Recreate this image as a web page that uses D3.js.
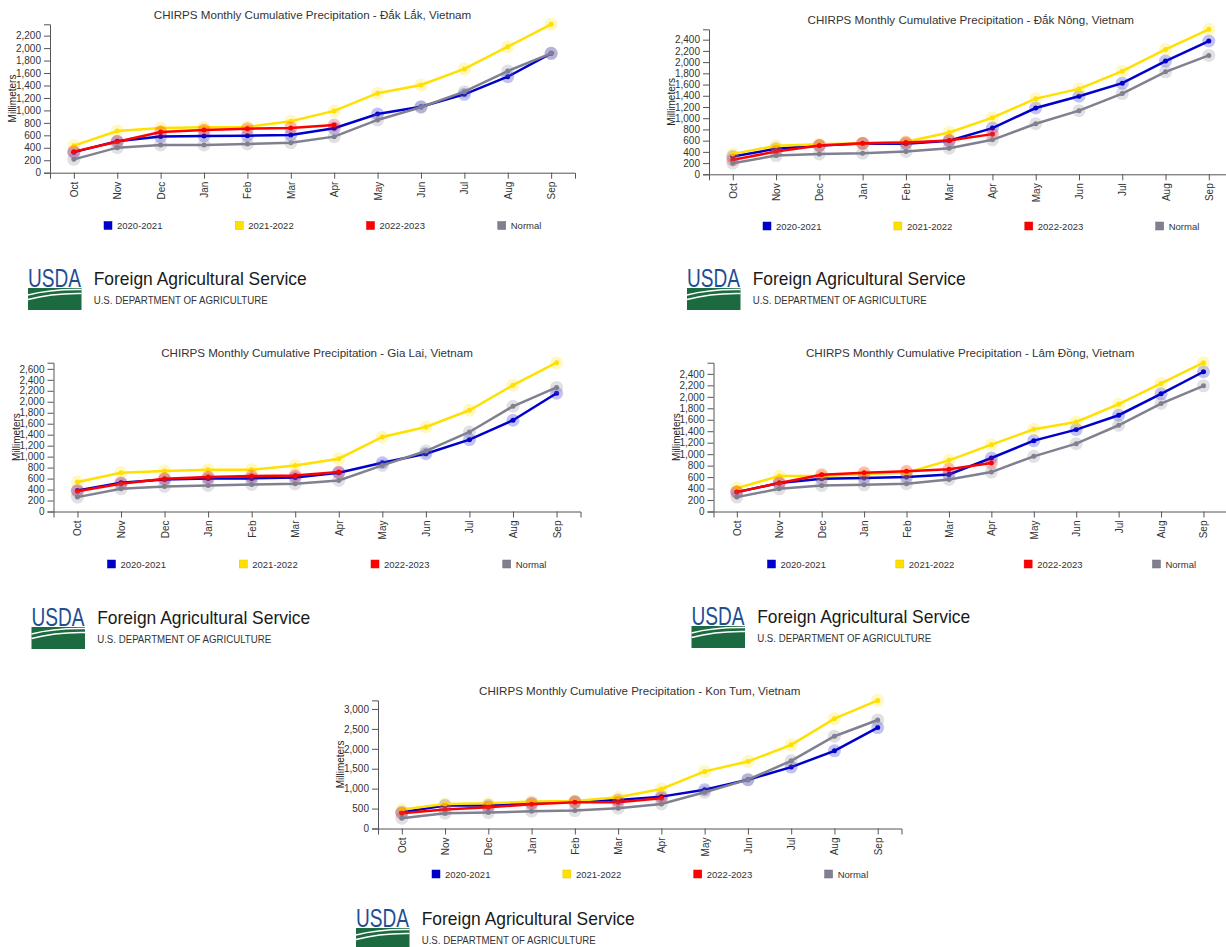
<!DOCTYPE html>
<html>
<head>
<meta charset="utf-8">
<script src="https://cdn.jsdelivr.net/npm/d3@7"></script>
<style>
body { margin: 0; background: #fff; }
svg text { font-family: "Liberation Sans", Arial, sans-serif; }
</style>
</head>
<body>
<svg id="chart" width="1226" height="947"></svg>
<script>
var months = ["Oct", "Nov", "Dec", "Jan", "Feb", "Mar", "Apr", "May", "Jun", "Jul", "Aug", "Sep"];
var seriesNames = ["2020-2021", "2021-2022", "2022-2023", "Normal"];
var provinces = ["Đắk Lắk", "Đắk Nông", "Gia Lai", "Lâm Đồng", "Kon Tum"];

// cumulative mm
var dakLak2020 = [330, 505, 580, 590, 595, 606, 713, 943, 1060, 1258, 1541, 1916];
var dakLak2021 = [434, 670, 718, 729, 734, 825, 992, 1276, 1408, 1665, 2022, 2382];
var dakLak2022 = [338, 498, 654, 686, 707, 718, 766];
var dakLakNormal = [214, 402, 445, 445, 461, 482, 579, 847, 1050, 1300, 1632, 1916];

var dakNong2020 = [316, 454, 513, 549, 543, 597, 824, 1182, 1391, 1624, 2018, 2376];
var dakNong2021 = [364, 507, 537, 555, 579, 746, 1009, 1349, 1522, 1839, 2227, 2585];
var dakNong2022 = [257, 406, 513, 555, 567, 603, 716];
var dakNongNormal = [197, 334, 364, 376, 406, 466, 615, 901, 1134, 1439, 1827, 2119];

var giaLai2020 = [384, 524, 585, 603, 603, 621, 706, 889, 1054, 1309, 1663, 2155];
var giaLai2021 = [536, 706, 737, 761, 761, 840, 962, 1358, 1541, 1845, 2302, 2712];
var giaLai2022 = [371, 505, 597, 627, 646, 658, 719];
var giaLaiNormal = [262, 414, 457, 475, 493, 505, 566, 840, 1102, 1449, 1918, 2262];

var lamDong2020 = [338, 496, 571, 583, 600, 647, 933, 1236, 1428, 1679, 2052, 2437];
var lamDong2021 = [408, 618, 618, 653, 676, 892, 1166, 1434, 1562, 1871, 2233, 2595];
var lamDong2022 = [338, 496, 641, 676, 700, 735, 845];
var lamDongNormal = [251, 396, 455, 466, 484, 560, 688, 962, 1183, 1504, 1883, 2192];

var konTum2020 = [408, 575, 575, 641, 675, 716, 800, 975, 1225, 1541, 1949, 2532];
var konTum2021 = [475, 616, 633, 675, 691, 783, 991, 1433, 1683, 2099, 2757, 3215];
var konTum2022 = [383, 475, 533, 608, 658, 658, 758];
var konTumNormal = [258, 383, 400, 433, 450, 508, 616, 908, 1225, 1699, 2316, 2724];

var provinceData = [
    [dakLak2020, dakLak2021, dakLak2022, dakLakNormal],
    [dakNong2020, dakNong2021, dakNong2022, dakNongNormal],
    [giaLai2020, giaLai2021, giaLai2022, giaLaiNormal],
    [lamDong2020, lamDong2021, lamDong2022, lamDongNormal],
    [konTum2020, konTum2021, konTum2022, konTumNormal]
];

var colors = ["#0000cc", "#ffe000", "#ff0000", "#808090"];

// where each small chart sits on the page
var panels = [
    {x0: 50, x1: 575, y0: 172.7, y1: 24.3, titleY: 18.5, legendY: 225.5, logoY: 268},
    {x0: 709, x1: 1232.6, y0: 174.3, y1: 29.3, titleY: 24, legendY: 226, logoY: 268},
    {x0: 53.5, x1: 580.5, y0: 511.5, y1: 362.7, titleY: 356.5, legendY: 564, logoY: 607},
    {x0: 713.5, x1: 1226.8, y0: 511.5, y1: 362.7, titleY: 356.5, legendY: 564, logoY: 606},
    {x0: 378, x1: 901.5, y0: 828.5, y1: 700.4, titleY: 695, legendY: 874, logoY: 908}
];

var svg = d3.select("#chart");

panels.forEach(function (p, i) {
    var data = provinceData[i];
    var g = svg.append("g");

    var x = d3.scalePoint()
        .domain(months)
        .range([p.x0, p.x1])
        .padding(0.55);

    var maxVal = d3.max(data, function (s) { return d3.max(s); });
    var y = d3.scaleLinear()
        .domain([0, maxVal])
        .range([p.y0, p.y1]);

    // title
    g.append("text")
        .attr("x", (p.x0 + p.x1) / 2)
        .attr("y", p.titleY)
        .attr("text-anchor", "middle")
        .attr("font-size", 11.6)
        .attr("fill", "#333")
        .text("CHIRPS Monthly Cumulative Precipitation - " + provinces[i] + ", Vietnam");

    // axes
    var xAxis = g.append("g")
        .attr("transform", "translate(0," + p.y0 + ")")
        .call(d3.axisBottom(x).tickSizeOuter(6));
    xAxis.selectAll("text")
        .attr("transform", "rotate(-90)")
        .attr("x", -9)
        .attr("y", 0)
        .attr("dy", ".35em")
        .attr("text-anchor", "end");

    var yAxis = g.append("g")
        .attr("transform", "translate(" + p.x0 + ",0)")
        .call(d3.axisLeft(y).ticks(10).tickFormat(d3.format(",.0f")).tickSizeOuter(6));

    [xAxis, yAxis].forEach(function (a) {
        a.attr("font-family", "Liberation Sans, Arial, sans-serif").attr("font-size", 10);
        a.selectAll("path, line").attr("stroke", "#555");
        a.selectAll("text").attr("fill", "#333");
    });

    g.append("text")
        .attr("transform", "translate(" + (p.x0 - 34) + "," + ((p.y0 + p.y1) / 2) + ") rotate(-90)")
        .attr("text-anchor", "middle")
        .attr("font-size", 10)
        .attr("fill", "#222")
        .text("Millimeters");

    var line = d3.line()
        .x(function (d, k) { return x(months[k]); })
        .y(function (d) { return y(d); });

    data.forEach(function (s, k) {
        var sg = g.append("g");
        sg.selectAll(".halo")
            .data(s)
            .enter().append("circle")
            .attr("cx", function (d, j) { return x(months[j]); })
            .attr("cy", function (d) { return y(d); })
            .attr("r", 6.5)
            .attr("fill", colors[k])
            .attr("fill-opacity", 0.24);
        sg.append("path")
            .datum(s)
            .attr("d", line)
            .attr("fill", "none")
            .attr("stroke", colors[k])
            .attr("stroke-width", 2.5);
        sg.selectAll(".dot")
            .data(s)
            .enter().append("circle")
            .attr("cx", function (d, j) { return x(months[j]); })
            .attr("cy", function (d) { return y(d); })
            .attr("r", 2.5)
            .attr("fill", colors[k]);
    });

    // legend
    var legStep = (p.x1 - p.x0) / 4;
    seriesNames.forEach(function (name, k) {
        var lx = p.x0 + 54 + k * legStep;
        g.append("rect")
            .attr("x", lx)
            .attr("y", p.legendY - 4)
            .attr("width", 8)
            .attr("height", 8)
            .attr("fill", colors[k])
            .attr("stroke", d3.color(colors[k]).darker(0.4))
            .attr("stroke-width", 0.5);
        g.append("text")
            .attr("x", lx + 13)
            .attr("y", p.legendY + 3.5)
            .attr("font-size", 9.5)
            .attr("fill", "#333")
            .text(name);
    });

    drawLogo(g, p.x0 - 22, p.logoY);
});

function drawLogo(g, lx, ly) {
    var lg = g.append("g").attr("transform", "translate(" + lx + "," + ly + ")");
    lg.append("text")
        .attr("x", 0)
        .attr("y", 18.5)
        .attr("font-family", "Liberation Serif, serif")
        .attr("font-size", 25)
        .attr("fill", "#1f4e93")
        .attr("textLength", 53)
        .attr("lengthAdjust", "spacingAndGlyphs")
        .text("USDA");
    lg.append("rect")
        .attr("x", 0).attr("y", 20)
        .attr("width", 53.5).attr("height", 22)
        .attr("fill", "#1c6a3f");
    lg.append("path")
        .attr("d", "M0,27 Q22,21 53.5,21.5")
        .attr("stroke", "#fff").attr("stroke-width", 1.6).attr("fill", "none");
    lg.append("path")
        .attr("d", "M0,31.5 Q24,25 53.5,25.5")
        .attr("stroke", "#fff").attr("stroke-width", 1.6).attr("fill", "none");
    lg.append("text")
        .attr("x", 65.7)
        .attr("y", 17)
        .attr("font-family", "Open Sans, sans-serif")
        .attr("font-size", 19)
        .attr("fill", "#1a1a1a")
        .attr("textLength", 213)
        .attr("lengthAdjust", "spacingAndGlyphs")
        .text("Foreign Agricultural Service");
    lg.append("text")
        .attr("x", 65.7)
        .attr("y", 35.8)
        .attr("font-family", "Open Sans, sans-serif")
        .attr("font-size", 10)
        .attr("fill", "#333")
        .attr("textLength", 174)
        .attr("lengthAdjust", "spacingAndGlyphs")
        .text("U.S. DEPARTMENT OF AGRICULTURE");
}
</script>
</body>
</html>
